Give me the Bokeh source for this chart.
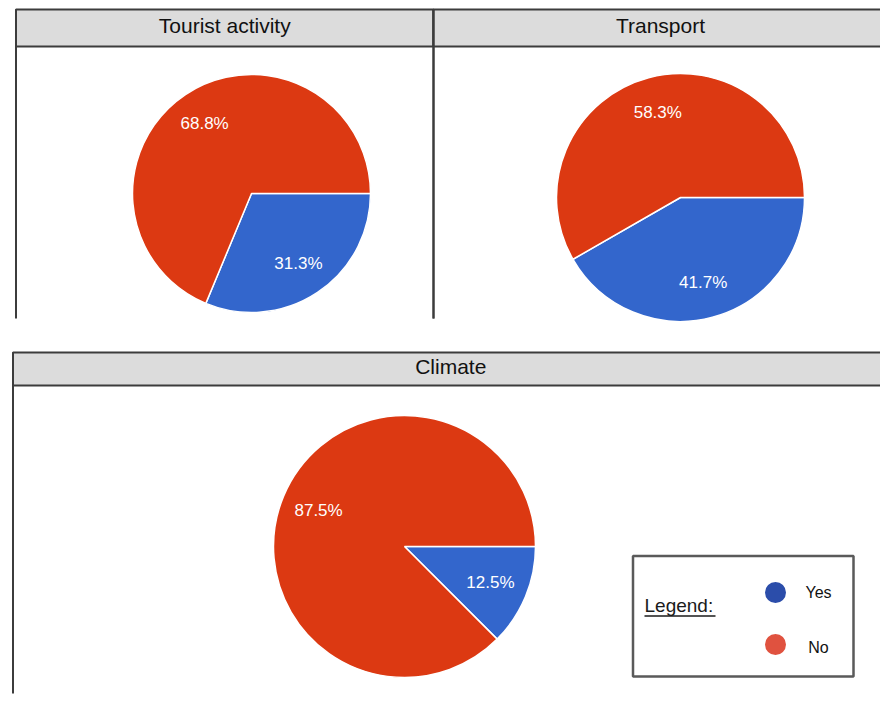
import math
from bokeh.plotting import figure
from bokeh.models import Range1d, ColumnDataSource
from bokeh.core.properties import value
from bokeh.embed import file_html
from bokeh.resources import INLINE

# Survey answers per topic (percent of respondents)
categories = ["Tourist activity", "Transport", "Climate"]
yes_pct = [31.3, 41.7, 12.5]
no_pct = [68.8, 58.3, 87.5]
answer_labels = ["Yes", "No"]

W, H = 880, 708
FONT = "Liberation Sans"
YES_COLOR = "#3366CC"
NO_COLOR = "#DC3912"
YES_DOT = "#2B4DAA"
NO_DOT = "#E0523F"
FRAME = "#3C3C3C"
HEADER_FILL = "#DCDCDC"

# page layout (pixel rows counted from the top)
panels = [  # (left, right, top, header bottom, frame bottom)
    (15.5, 433, 9, 46, 318),
    (433, 887, 9, 46, 318),
    (12.5, 888, 352, 385, 693),
]
pie_centers = [(251, 193), (680, 197), (404, 546)]
pie_radii = [119, 124, 131]
LABEL_POS = 0.71


def Y(row):
    return H - row


p = figure(width=W, height=H, output_backend="svg", toolbar_location=None,
           x_range=Range1d(0, W), y_range=Range1d(0, H), min_border=0)
p.axis.visible = False
p.grid.visible = False
p.outline_line_color = None
p.background_fill_color = "white"
p.border_fill_color = "white"

# panel headers and frames
for (l, r, t, hb, fb), name in zip(panels, categories):
    p.quad(left=l, right=r, top=Y(t), bottom=Y(hb), fill_color=HEADER_FILL,
           line_color=FRAME, line_width=2)
    p.segment(x0=[l, r], y0=[Y(t), Y(t)], x1=[l, r], y1=[Y(fb), Y(fb)],
              line_color=FRAME, line_width=2)
    p.text(x=[(l + r) / 2], y=[Y((t + hb) / 2 - 3)], text=[name],
           text_font=value(FONT), text_font_size="21px", text_color="#111111",
           text_align="center", text_baseline="middle")

# pies: "Yes" slice starts at 3 o'clock and runs clockwise
for (cx, cy), r, yes, no in zip(pie_centers, pie_radii, yes_pct, no_pct):
    f = yes / (yes + no)
    yes_start, yes_end = -2 * math.pi * f, 0.0
    no_start, no_end = 0.0, 2 * math.pi - 2 * math.pi * f
    src = ColumnDataSource(dict(
        x=[cx, cx], y=[Y(cy), Y(cy)],
        start=[yes_start, no_start], end=[yes_end, no_end],
        color=[YES_COLOR, NO_COLOR]))
    p.wedge(x="x", y="y", radius=r, start_angle="start", end_angle="end",
            fill_color="color", line_color="white", line_width=1.5, source=src)
    mids = [(yes_start + yes_end) / 2, (no_start + no_end) / 2]
    lx = [cx + LABEL_POS * r * math.cos(a) for a in mids]
    ly = [Y(cy) + LABEL_POS * r * math.sin(a) for a in mids]
    p.text(x=lx, y=ly, text=[f"{yes:.1f}%", f"{no:.1f}%"],
           text_font=value(FONT), text_font_size="17px", text_color="white",
           text_align="center", text_baseline="middle")

# legend box
p.quad(left=632.5, right=853, top=Y(555.5), bottom=Y(676), fill_color="white",
       line_color="#5A5A5A", line_width=2.5)
p.text(x=[644], y=[Y(605)], text=["Legend:"], text_font=value(FONT),
       text_font_size="19px", text_color="#1A1A1A", text_align="left",
       text_baseline="middle")
p.segment(x0=[644], y0=[Y(615.5)], x1=[715], y1=[Y(615.5)],
          line_color="#1A1A1A", line_width=1.5)
p.circle(x=[775, 775], y=[Y(592), Y(644)], radius=10.5,
         fill_color=[YES_DOT, NO_DOT], line_color=None)
p.text(x=[818, 818], y=[Y(592), Y(647)], text=answer_labels,
       text_font=value(FONT), text_font_size="16px", text_color="#111111",
       text_align="center", text_baseline="middle")

open("out.html", "w").write(file_html(p, INLINE))
